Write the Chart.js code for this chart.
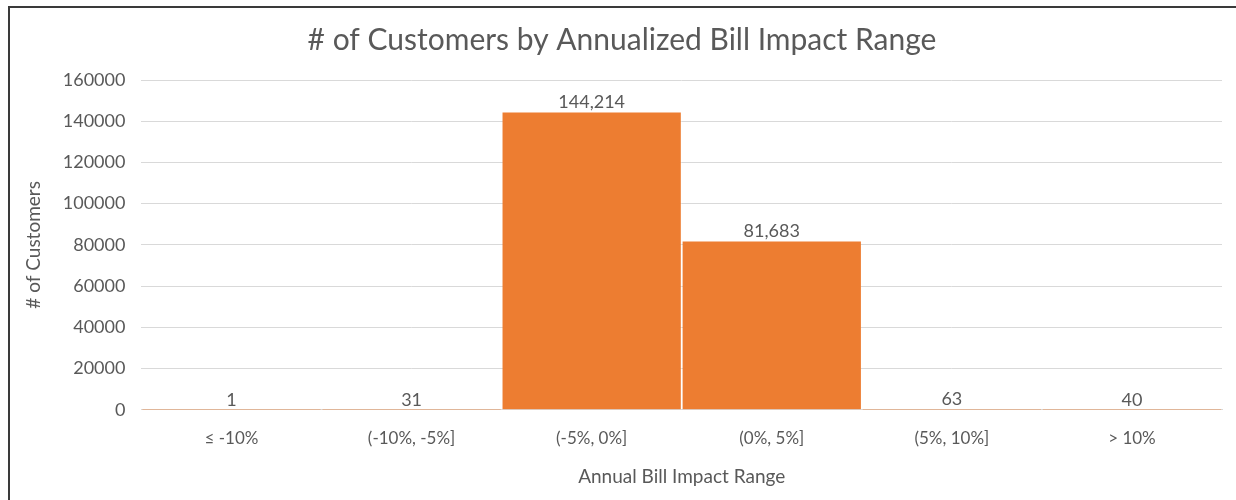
<!DOCTYPE html>
<html>
<head>
<meta charset="utf-8">
<script src="https://cdn.jsdelivr.net/npm/chart.js@4"></script>
<style>
  html, body { margin: 0; padding: 0; background: #fff; }
  #wrap { position: relative; width: 1236px; height: 500px; overflow: hidden; }
  #frame { position: absolute; left: 8px; top: 6px; width: 1300px; height: 600px;
           border-left: 2px solid #3a3a3a; border-top: 2px solid #3a3a3a; }
  canvas { position: absolute; left: 0; top: 0; }
</style>
</head>
<body>
<div id="wrap">
  <div id="frame"></div>
  <canvas id="billChart" width="1236" height="500"></canvas>
</div>
<script>
  const categories = ['≤ -10%', '(-10%, -5%]', '(-5%, 0%]', '(0%, 5%]', '(5%, 10%]', '> 10%'];
  const customers = [1, 31, 144214, 81683, 63, 40];
  const yTicks = [0, 20000, 40000, 60000, 80000, 100000, 120000, 140000, 160000];

  const fontFamily = 'Lato, "Open Sans", sans-serif';
  const textColor = '#595959';

  // Value labels on top of each bar
  const barLabels = {
    id: 'barLabels',
    afterDatasetsDraw(chart) {
      const ctx = chart.ctx;
      const meta = chart.getDatasetMeta(0);
      ctx.save();
      ctx.font = '18px ' + fontFamily;
      ctx.fillStyle = textColor;
      ctx.textAlign = 'center';
      ctx.textBaseline = 'bottom';
      meta.data.forEach((bar, i) => {
        ctx.fillText(customers[i].toLocaleString('en-US'), bar.x, bar.y - 1);
      });
      ctx.restore();
    }
  };

  new Chart(document.getElementById('billChart').getContext('2d'), {
    type: 'bar',
    data: {
      labels: categories,
      datasets: [{
        label: '# of Customers',
        data: customers,
        backgroundColor: '#ED7D31',
        barPercentage: 1,
        categoryPercentage: 0.99
      }]
    },
    options: {
      responsive: false,
      animation: false,
      layout: { padding: { left: 22, right: 14, top: 22, bottom: 12 } },
      plugins: {
        legend: { display: false },
        tooltip: { enabled: false },
        title: {
          display: true,
          text: '# of Customers by Annualized Bill Impact Range',
          color: textColor,
          font: { family: fontFamily, size: 30, weight: 'normal' },
          padding: { top: 0, bottom: 22 }
        }
      },
      scales: {
        x: {
          z: 1,
          grid: { display: false, drawTicks: false },
          border: { color: '#d9d9d9', width: 1 },
          ticks: { color: textColor, font: { family: fontFamily, size: 17 }, padding: 19 },
          title: {
            display: true,
            text: 'Annual Bill Impact Range',
            color: textColor,
            font: { family: fontFamily, size: 19 },
            padding: { top: -3, bottom: 0 }
          }
        },
        y: {
          min: 0,
          max: 160000,
          afterBuildTicks(axis) { axis.ticks = yTicks.map(v => ({ value: v })); },
          grid: { color: '#d9d9d9', drawTicks: false },
          border: { display: false },
          ticks: {
            color: textColor,
            font: { family: fontFamily, size: 18 },
            padding: 16,
            callback: v => String(v)
          },
          title: {
            display: true,
            text: '# of Customers',
            color: textColor,
            font: { family: fontFamily, size: 19 },
            padding: { top: 0, bottom: 2 }
          }
        }
      }
    },
    plugins: [barLabels]
  });
</script>
</body>
</html>
